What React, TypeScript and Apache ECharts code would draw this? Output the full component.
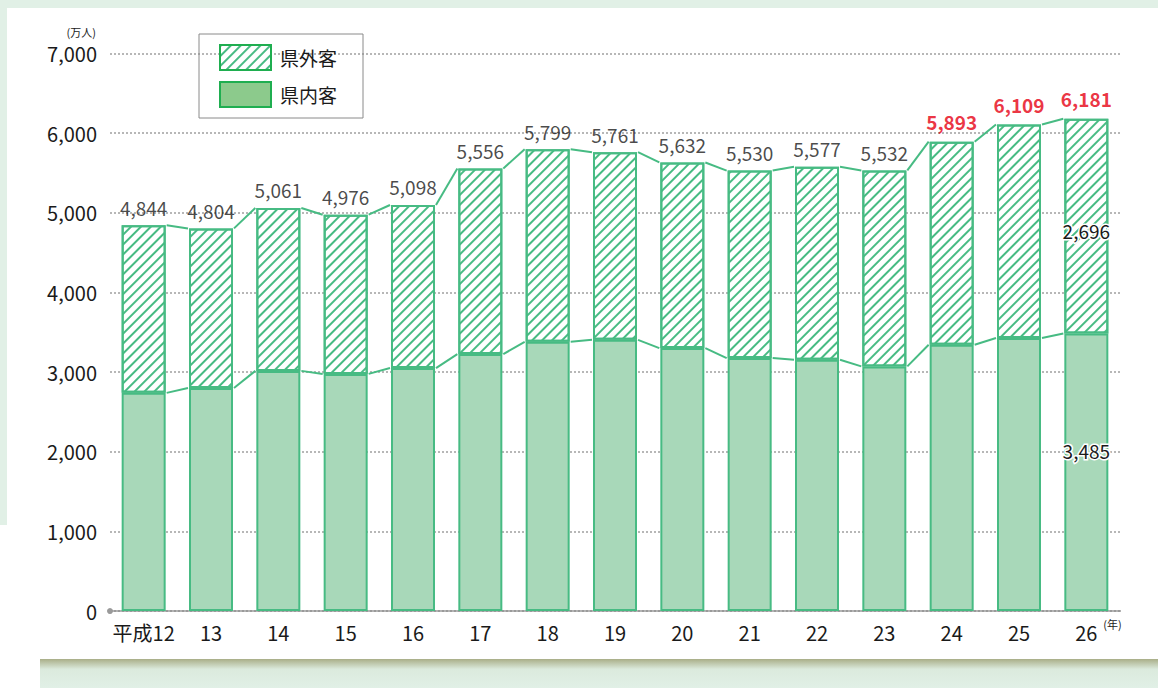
import React, { useEffect, useRef } from "react";
import * as echarts from "echarts";

const categories = ["平成12", "13", "14", "15", "16", "17", "18", "19", "20", "21", "22", "23", "24", "25", "26"];
const totals = [4844, 4804, 5061, 4976, 5098, 5556, 5799, 5761, 5632, 5530, 5577, 5532, 5893, 6109, 6181];
const domestic = [2739, 2801, 3015, 2977, 3050, 3226, 3380, 3405, 3301, 3176, 3154, 3071, 3343, 3427, 3485];
const outside = totals.map((t, i) => t - domestic[i]);
const highlighted = [12, 13, 14];
const yTicks = [0, 1000, 2000, 3000, 4000, 5000, 6000, 7000];

const GREEN = "#47bb83";
const FILL = "#a8d8b9";
const FONT = "'Noto Sans CJK JP', 'Noto Sans', sans-serif";
const TEXT = "#1a1a1a";
const BAR_W = 44;

const fmt = (v: number) => v.toLocaleString("en-US");

const hatch = {
  symbol: "rect",
  symbolSize: 1,
  color: GREEN,
  dashArrayX: [1, 0],
  dashArrayY: [1.3, 5],
  rotation: -Math.PI / 4,
};

export default function App() {
  const ref = useRef<HTMLDivElement>(null);
  useEffect(() => {
    if (!ref.current) return;
    const chart = echarts.init(ref.current, undefined, { renderer: "svg" });
    const connectorData = categories.slice(0, -1).map((_, i) => [i, domestic[i], totals[i], domestic[i + 1], totals[i + 1]]);
    chart.setOption({
      animation: false,
      backgroundColor: "#ffffff",
      textStyle: { fontFamily: FONT },
      graphic: [
        { type: "rect", z: -10, shape: { x: 0, y: 0, width: 1158, height: 8 }, style: { fill: "#e1f0e6" } },
        { type: "rect", z: -10, shape: { x: 0, y: 0, width: 7, height: 525 }, style: { fill: "#e1f0e6" } },
        {
          type: "rect",
          z: -10,
          shape: { x: 40, y: 659, width: 1118, height: 29 },
          style: {
            fill: new echarts.graphic.LinearGradient(0, 0, 0, 1, [
              { offset: 0, color: "#a9ae88" },
              { offset: 0.35, color: "#dbeadd" },
              { offset: 1, color: "#e1f0e6" },
            ]),
          },
        },
      ],
      grid: { left: 110, right: 38, top: 53.5, bottom: 77 },
      legend: {
        orient: "vertical",
        left: 199,
        top: 34,
        padding: [10, 26, 10, 20],
        borderColor: "#8a8a8a",
        borderWidth: 1,
        itemWidth: 51,
        itemHeight: 25,
        itemGap: 10,
        icon: "rect",
        textStyle: { fontSize: 19, color: TEXT, fontFamily: FONT, padding: [0, 0, 0, 4] },
        data: [
          { name: "県外客", itemStyle: { color: "#ffffff", borderColor: "#1fae50", borderWidth: 2, decal: hatch } },
          { name: "県内客", itemStyle: { color: "#8cca8c", borderColor: "#1fae50", borderWidth: 2 } },
        ],
      },
      xAxis: {
        type: "category",
        data: categories,
        name: "(年)",
        nameLocation: "end",
        nameGap: -8,
        nameTextStyle: { fontSize: 11, color: TEXT, align: "center", verticalAlign: "top", padding: [8, 0, 0, 0] },
        axisLine: { show: true, lineStyle: { color: "#9a9a9a", type: [2, 2], width: 2 }, symbol: ["circle", "none"], symbolSize: [6, 6] },
        axisTick: { show: false },
        axisLabel: { fontSize: 20, color: TEXT, margin: 11, fontFamily: FONT, interval: 0 },
      },
      yAxis: {
        type: "value",
        min: 0,
        max: 7000,
        interval: 1000,
        name: "(万人)",
        nameLocation: "end",
        nameGap: 16,
        nameTextStyle: { fontSize: 11, color: TEXT, align: "right", padding: [0, 14, 0, 0] },
        axisLine: { show: false },
        axisTick: { show: false },
        axisLabel: {
          fontSize: 20,
          color: TEXT,
          margin: 13,
          fontFamily: FONT,
          formatter: (v: number) => (yTicks.includes(v) ? fmt(v) : ""),
        },
        splitLine: { show: true, lineStyle: { color: "#a0a0a0", type: [2, 2], width: 1.5 } },
      },
      series: [
        {
          name: "県内客",
          type: "bar",
          stack: "all",
          barWidth: BAR_W,
          z: 3,
          itemStyle: { color: FILL, borderColor: GREEN, borderWidth: 2 },
          data: domestic.map((v, i) =>
            i === domestic.length - 1
              ? {
                  value: v,
                  label: {
                    show: true,
                    position: "inside",
                    offset: [0, -22],
                    formatter: () => fmt(v),
                    fontSize: 19,
                    color: TEXT,
                    textBorderColor: "#ffffff",
                    textBorderWidth: 3,
                    fontFamily: FONT,
                  },
                }
              : v
          ),
        },
        {
          name: "県外客",
          type: "bar",
          stack: "all",
          barWidth: BAR_W,
          z: 3,
          itemStyle: { color: "#ffffff", borderColor: GREEN, borderWidth: 2, decal: hatch },
          data: outside.map((v, i) =>
            i === outside.length - 1
              ? {
                  value: v,
                  label: {
                    show: true,
                    position: "inside",
                    offset: [0, 4],
                    formatter: () => fmt(v),
                    fontSize: 19,
                    color: TEXT,
                    textBorderColor: "#ffffff",
                    textBorderWidth: 3,
                    fontFamily: FONT,
                  },
                }
              : v
          ),
        },
        {
          name: "connectors",
          type: "custom",
          z: 4,
          silent: true,
          data: connectorData,
          encode: { x: 0, y: 2 },
          renderItem: (_params: any, api: any) => {
            const i = api.value(0);
            const half = BAR_W / 2 + 1;
            const a1 = api.coord([i, api.value(2)]);
            const a2 = api.coord([i + 1, api.value(4)]);
            const b1 = api.coord([i, api.value(1)]);
            const b2 = api.coord([i + 1, api.value(3)]);
            const st = { stroke: GREEN, lineWidth: 2, fill: "none" };
            return {
              type: "group",
              children: [
                { type: "line", shape: { x1: a1[0] + half, y1: a1[1], x2: a2[0] - half, y2: a2[1] }, style: st },
                { type: "line", shape: { x1: b1[0] + half, y1: b1[1], x2: b2[0] - half, y2: b2[1] }, style: st },
              ],
            };
          },
        },
        {
          name: "total",
          type: "scatter",
          z: 5,
          silent: true,
          symbolSize: 1,
          itemStyle: { color: "rgba(0,0,0,0)" },
          data: totals.map((v, i) => {
            const hi = highlighted.includes(i);
            return {
              value: v,
              label: {
                show: true,
                position: "top",
                distance: hi ? 10 : 8,
                formatter: () => fmt(v),
                fontSize: 19,
                fontWeight: hi ? "bold" : "normal",
                color: hi ? "#e60012" : TEXT,
                fontFamily: FONT,
              },
            };
          }),
        },
      ],
    });
    return () => chart.dispose();
  }, []);
  return (
    <div style={{ position: "fixed", left: 0, top: 0, width: 1158, height: 688, background: "#fff" }}>
      <div ref={ref} style={{ width: 1158, height: 688 }} />
    </div>
  );
}
